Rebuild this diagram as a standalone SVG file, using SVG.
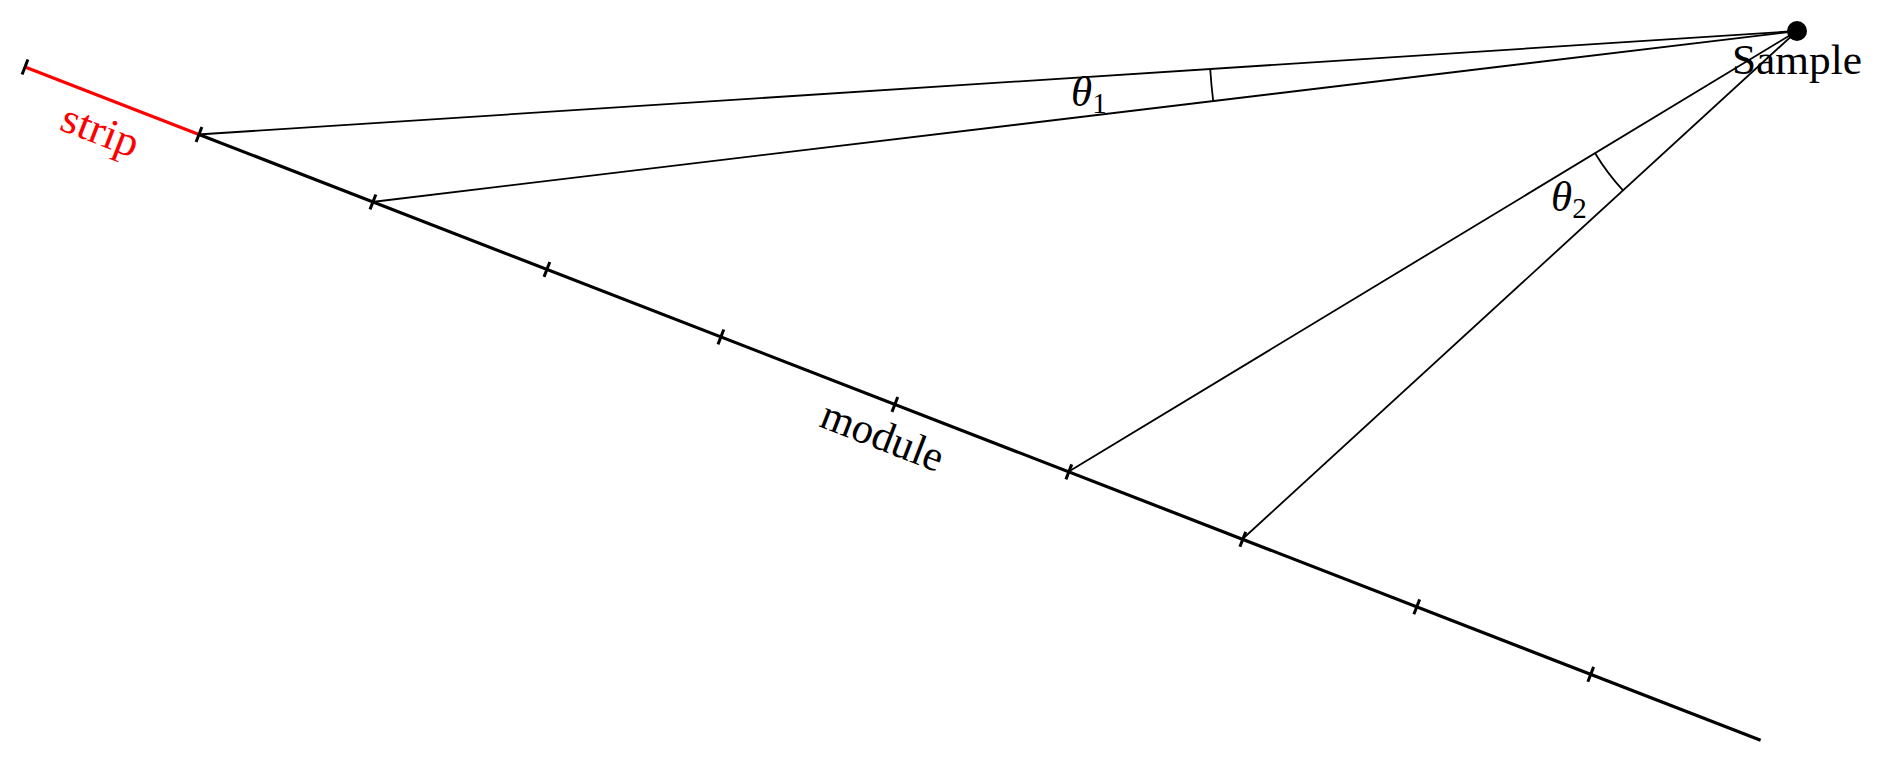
<svg xmlns="http://www.w3.org/2000/svg" width="1897" height="762" viewBox="0 0 1897 762">
<style>
.axis{stroke:#000;stroke-width:3.2;fill:none;stroke-linecap:butt}
.strip{stroke:#ff0000;stroke-width:3.2;fill:none}
.tick{stroke:#000;stroke-width:3;fill:none}
.ray{stroke:#000;stroke-width:1.8;fill:none}
.lbl{font-family:"Liberation Serif","DejaVu Serif",serif;font-size:43px;fill:#000}
.red{fill:#ff0000}
</style>
<rect width="1897" height="762" fill="#fff"/>
<g id="module" transform="translate(25,67) rotate(21.2)">
  <line class="strip" x1="0" y1="0" x2="186.6" y2="0"/>
  <line class="axis" x1="186.6" y1="0" x2="1861.6" y2="0"/>
  <g id="ticks">
    <line class="tick" x1="0" y1="-8" x2="0" y2="8"/>
    <line class="tick" x1="186.6" y1="-8" x2="186.6" y2="8"/>
    <line class="tick" x1="373.2" y1="-8" x2="373.2" y2="8"/>
    <line class="tick" x1="559.8" y1="-8" x2="559.8" y2="8"/>
    <line class="tick" x1="746.4" y1="-8" x2="746.4" y2="8"/>
    <line class="tick" x1="933" y1="-8" x2="933" y2="8"/>
    <line class="tick" x1="1119.6" y1="-8" x2="1119.6" y2="8"/>
    <line class="tick" x1="1306.2" y1="-8" x2="1306.2" y2="8"/>
    <line class="tick" x1="1492.8" y1="-8" x2="1492.8" y2="8"/>
    <line class="tick" x1="1679.4" y1="-8" x2="1679.4" y2="8"/>
  </g>
  <text id="strip-label" class="lbl red" x="93.3" y="46" text-anchor="middle" textLength="80" lengthAdjust="spacingAndGlyphs">strip</text>
  <text id="module-label" class="lbl" x="933" y="48" text-anchor="middle" textLength="128" lengthAdjust="spacingAndGlyphs">module</text>
</g>
<g id="connectors">
  <line class="ray" x1="1797" y1="31" x2="198" y2="134.5"/>
  <line class="ray" x1="1797" y1="31" x2="372" y2="202"/>
  <line class="ray" x1="1797" y1="31" x2="1068" y2="472"/>
  <line class="ray" x1="1797" y1="31" x2="1242" y2="539.5"/>
  <path class="ray" d="M1210.2,69 A588,588 0 0 0 1213.2,101"/>
  <path class="ray" d="M1595.1,153.2 A236,236 0 0 0 1623,190.4"/>
</g>
<g id="sample">
  <circle cx="1797" cy="31" r="10" fill="#000"/>
  <text class="lbl" x="1732" y="74" textLength="130" lengthAdjust="spacingAndGlyphs">Sample</text>
</g>
<g id="theta1">
  <text class="lbl" x="1071" y="106"><tspan font-style="italic">θ</tspan><tspan font-size="29" dy="7">1</tspan></text>
</g>
<g id="theta2">
  <text class="lbl" x="1551" y="211"><tspan font-style="italic">θ</tspan><tspan font-size="29" dy="7">2</tspan></text>
</g>
</svg>
